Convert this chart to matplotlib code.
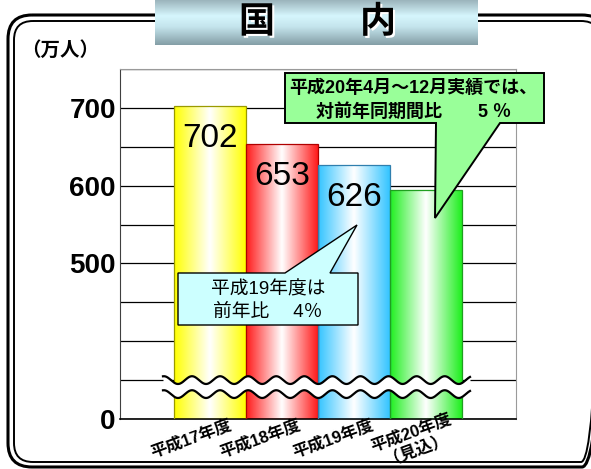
import numpy as np
import matplotlib
matplotlib.use('Agg')
import matplotlib.pyplot as plt
from matplotlib.colors import LinearSegmentedColormap
from matplotlib.patches import FancyBboxPatch, Polygon
import matplotlib.patheffects as pe

# data
years = ['平成17年度', '平成18年度', '平成19年度', '平成20年度\n（見込）']
visitors = [702, 653, 626, 595]
value_text = ['702', '653', '626', '']
bar_colors = ['#ffff00', '#ff1a1a', '#33c4ff', '#1fef1f']
edge_colors = ['#9a9a00', '#b00000', '#2f7fae', '#1f9f1f']
grid_values = [300, 350, 400, 450, 500, 550, 600, 650, 700, 750]
grid_text = {300: '0', 500: '500', 600: '600', 700: '700'}

JP = ['Liberation Sans', 'Noto Sans CJK JP']

W, H = 591, 469
fig = plt.figure(figsize=(W / 100, H / 100), dpi=100)
ax = fig.add_axes([120 / W, 1 - 419 / H, 396 / W, 350 / H])

x = np.arange(len(visitors))
base = grid_values[0]
bars = ax.bar(x, np.array(visitors) - base, bottom=base, width=1.0,
              facecolor='none', edgecolor=edge_colors, linewidth=0.9, zorder=3)

grad = np.linspace(0, 1, 256).reshape(1, -1)
for b, c in zip(bars, bar_colors):
    cmap = LinearSegmentedColormap.from_list('g', [c, 'white', c])
    im = ax.imshow(grad, cmap=cmap, aspect='auto', interpolation='bicubic',
                   extent=(b.get_x(), b.get_x() + b.get_width(), base, base + b.get_height()),
                   zorder=2)
    im.set_clip_path(b)

for xi, v, t in zip(x, visitors, value_text):
    ax.annotate(t, (xi, v), xytext=(0, -12), textcoords='offset points',
                ha='center', va='top', fontsize=24, family=JP, zorder=6)

# axis break
xs = np.linspace(-0.653, 3.611, 800)
wave = 5 * np.cos(2 * np.pi * (xs + 0.25) / 0.39)
ax.fill_between(xs, 332 + wave, 350 + wave, color='white', zorder=4, lw=0)
ax.plot(xs, 350 + wave, color='black', lw=1.6, zorder=5)
ax.plot(xs, 332 + wave, color='black', lw=1.6, zorder=5)

# category labels, slanted under each bar
label_shift = [(-14, -14), (-16, -14), (-15, -14), (-9, -15)]
for xi, lab, (dx, dy) in zip(x, years, label_shift):
    ax.annotate(lab, (xi, base), xytext=(dx, dy), textcoords='offset points',
                ha='center', va='center', rotation=20, rotation_mode='anchor',
                fontsize=12, fontweight='bold', family=JP, linespacing=0.95,
                annotation_clip=False)

ax.set_xlim(-1.25, 4.25)
ax.set_ylim(grid_values[0], grid_values[-1])
ax.set_yticks(grid_values, [grid_text.get(v, '') for v in grid_values],
              fontsize=20, fontweight='bold', family=JP)
ax.set_xticks([])
ax.tick_params(length=0)
ax.tick_params(axis='y', pad=3)
ax.grid(axis='y', color='black', lw=0.9, zorder=1)
ax.set_axisbelow(True)
for s in ['top', 'right']:
    ax.spines[s].set_color('#9a9a9a')
ax.spines['left'].set_color('#404040')
ax.spines['bottom'].set_color('black')
ax.spines['bottom'].set_linewidth(1.2)

# decorations in pixel coordinates
deco = fig.add_axes([0, 0, 1, 1], zorder=5)
deco.set_xlim(0, W)
deco.set_ylim(H, 0)
deco.axis('off')

deco.add_patch(FancyBboxPatch((8, 15), 598, 452, boxstyle='round,pad=0,rounding_size=24',
                              fill=False, ec='black', lw=2.2))
deco.add_patch(FancyBboxPatch((14, 21), 586, 441, boxstyle='round,pad=0,rounding_size=19',
                              fill=False, ec='black', lw=1.4))

title_cmap = LinearSegmentedColormap.from_list(
    't', [(0, '#9bb4bc'), (0.35, '#d6f6fd'), (0.6, '#c4e4ec'), (1, '#849ea6')])
deco.imshow(np.linspace(0, 1, 128).reshape(-1, 1), cmap=title_cmap, aspect='auto',
            extent=(155, 478, 45, 0), zorder=2)
for ch, cx in [('国', 257), ('内', 378)]:
    deco.text(cx, 23, ch, ha='center', va='center', fontsize=26, fontweight='bold',
              family=JP, zorder=3,
              path_effects=[pe.withSimplePatchShadow(offset=(1.5, -1.5), shadow_rgbFace='white', alpha=1)])

deco.text(60, 50, '（万人）', ha='center', va='center', fontsize=14, fontweight='bold', family=JP)

# callout for 平成19年度
deco.add_patch(Polygon([(178, 273), (285, 273), (357, 225), (330, 273), (358, 273),
                        (358, 325), (178, 325)], closed=True, fc='#ccffff', ec='black', lw=1.0))
deco.text(268, 290, '平成19年度は', ha='center', va='center', fontsize=13.5, family=JP)
deco.text(268, 312, '前年比　 4％', ha='center', va='center', fontsize=13.5, family=JP)

# callout for 平成20年度
deco.add_patch(Polygon([(285, 73), (544, 73), (544, 123), (500, 123), (435, 218),
                        (436, 123), (285, 123)], closed=True, fc='#99ff99', ec='black', lw=1.4))
deco.text(413, 88, '平成20年4月～12月実績では、', ha='center', va='center',
          fontsize=13, fontweight='bold', family=JP)
deco.text(414, 112, '対前年同期間比　　5 ％', ha='center', va='center',
          fontsize=13, fontweight='bold', family=JP)

fig.savefig('out.png', dpi=100)
